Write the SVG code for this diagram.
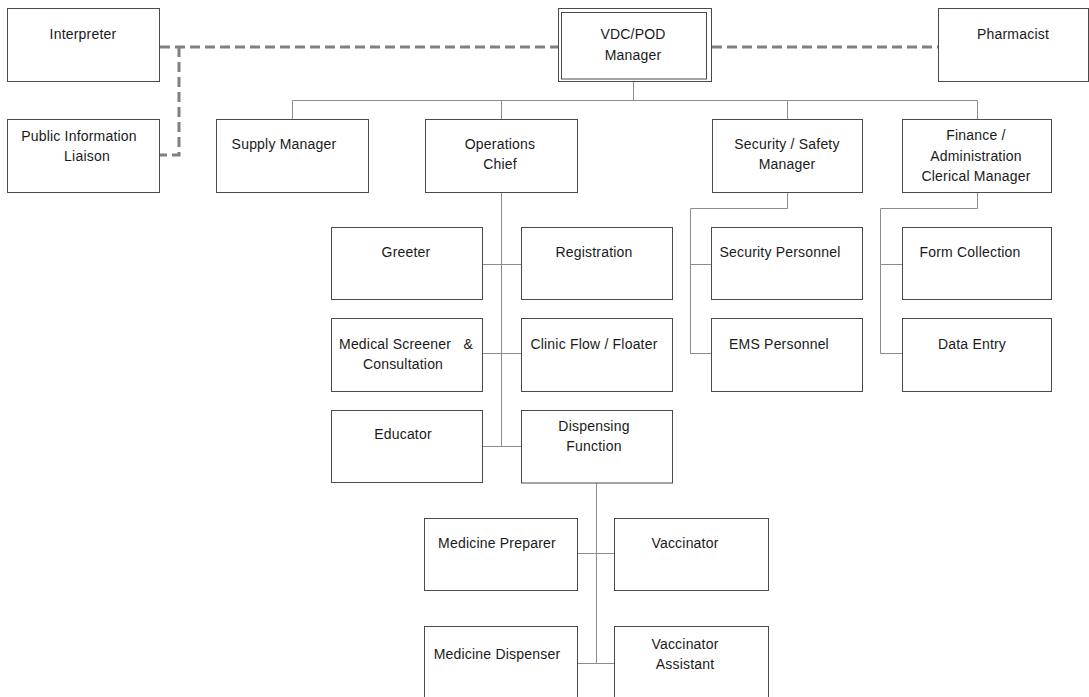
<svg xmlns="http://www.w3.org/2000/svg" width="1089" height="697" viewBox="0 0 1089 697">
<style>
.box{fill:#fff;stroke:#4a4a4a;stroke-width:1}
.t{font-family:"Liberation Sans",Arial,sans-serif;font-size:14px;letter-spacing:0.2px;fill:#1a1a1a;text-anchor:middle}
.c{fill:none;stroke:#8c8c8c;stroke-width:1}
.d{fill:none;stroke:#808080;stroke-width:3;stroke-dasharray:10 5}
</style>
<rect width="1089" height="697" fill="#fff"/>
<g id="connectors">
<path class="d" d="M160,47 H558"/>
<path class="d" d="M179,47 V155 H160"/>
<path class="d" d="M712,47 H938"/>
<path class="c" d="M633.5,81 V100.5 M292.5,100.5 H977.5 M292.5,100.5 V119 M501.5,100.5 V119 M787.5,100.5 V119 M977.5,100.5 V119"/>
<path class="c" d="M501.5,192 V446.5 M482,264.5 H521 M482,353.5 H521 M482,446.5 H521"/>
<path class="c" d="M787.5,192 V208.5 H690.5 V353.5 M690.5,264.5 H711 M690.5,353.5 H711"/>
<path class="c" d="M977.5,192 V208.5 H880.5 V353.5 M880.5,264.5 H902 M880.5,353.5 H902"/>
<path class="c" d="M596.5,483 V663.5 M577,553.5 H614 M577,663.5 H614"/>
</g>
<g id="interpreter"><rect class="box" x="7.5" y="8.5" width="152" height="73"/><text class="t" x="83" y="39">Interpreter</text></g>
<g id="public-information-liaison"><rect class="box" x="7.5" y="119.5" width="152" height="73"/><text class="t" x="79" y="141">Public Information</text><text class="t" x="87" y="161">Liaison</text></g>
<g id="supply-manager"><rect class="box" x="216.5" y="119.5" width="152" height="73"/><text class="t" x="284" y="149">Supply Manager</text></g>
<g id="vdc-pod-manager"><rect class="box" x="558.5" y="8.5" width="153" height="73"/><rect class="box" x="561.5" y="12.5" width="145" height="66.5"/><text class="t" x="633" y="39">VDC/POD</text><text class="t" x="633" y="60">Manager</text></g>
<g id="pharmacist"><rect class="box" x="938.5" y="8.5" width="150" height="73"/><text class="t" x="1013" y="39">Pharmacist</text></g>
<g id="operations-chief"><rect class="box" x="425.5" y="119.5" width="152" height="73"/><text class="t" x="500" y="149">Operations</text><text class="t" x="500" y="169">Chief</text></g>
<g id="security-safety-manager"><rect class="box" x="712.5" y="119.5" width="150" height="73"/><text class="t" x="787" y="149">Security / Safety</text><text class="t" x="787" y="169">Manager</text></g>
<g id="finance-administration"><rect class="box" x="902.5" y="119.5" width="149" height="73"/><text class="t" x="976" y="140">Finance /</text><text class="t" x="976" y="161">Administration</text><text class="t" x="976" y="181">Clerical Manager</text></g>
<g id="greeter"><rect class="box" x="331.5" y="227.5" width="151" height="72"/><text class="t" x="406" y="257">Greeter</text></g>
<g id="registration"><rect class="box" x="521.5" y="227.5" width="151" height="72"/><text class="t" x="594" y="257">Registration</text></g>
<g id="medical-screener"><rect class="box" x="331.5" y="318.5" width="151" height="73"/><text class="t" x="406" y="349" xml:space="preserve">Medical Screener   &amp;</text><text class="t" x="403" y="369">Consultation</text></g>
<g id="clinic-flow"><rect class="box" x="521.5" y="318.5" width="151" height="73"/><text class="t" x="594" y="349">Clinic Flow / Floater</text></g>
<g id="educator"><rect class="box" x="331.5" y="410.5" width="151" height="72"/><text class="t" x="403" y="439">Educator</text></g>
<g id="dispensing-function"><rect class="box" x="521.5" y="410.5" width="151" height="72.5"/><text class="t" x="594" y="431">Dispensing</text><text class="t" x="594" y="451">Function</text></g>
<g id="security-personnel"><rect class="box" x="711.5" y="227.5" width="151" height="72"/><text class="t" x="780" y="257">Security Personnel</text></g>
<g id="ems-personnel"><rect class="box" x="711.5" y="318.5" width="151" height="73"/><text class="t" x="779" y="349">EMS Personnel</text></g>
<g id="form-collection"><rect class="box" x="902.5" y="227.5" width="149" height="72"/><text class="t" x="970" y="257">Form Collection</text></g>
<g id="data-entry"><rect class="box" x="902.5" y="318.5" width="149" height="73"/><text class="t" x="972" y="349">Data Entry</text></g>
<g id="medicine-preparer"><rect class="box" x="424.5" y="518.5" width="153" height="72"/><text class="t" x="497" y="548">Medicine Preparer</text></g>
<g id="vaccinator"><rect class="box" x="614.5" y="518.5" width="154" height="72"/><text class="t" x="685" y="548">Vaccinator</text></g>
<g id="medicine-dispenser"><rect class="box" x="424.5" y="626.5" width="153" height="80"/><text class="t" x="497" y="659">Medicine Dispenser</text></g>
<g id="vaccinator-assistant"><rect class="box" x="614.5" y="626.5" width="154" height="80"/><text class="t" x="685" y="649">Vaccinator</text><text class="t" x="685" y="669">Assistant</text></g>
</svg>
